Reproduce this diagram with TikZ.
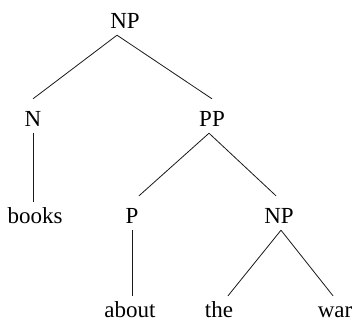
\documentclass[tikz,border=0pt]{standalone}
\usepackage{fontspec}
\setmainfont{Liberation Serif}
\begin{document}
\begin{tikzpicture}[x=1pt,y=-1pt,
  lab/.style={font=\fontsize{23}{26}\selectfont, inner sep=0pt, anchor=base},
  cat/.style={lab, text height=27pt, text depth=7pt},
  word/.style={lab, text height=21pt, text depth=4pt},
  edge/.style={line width=0.8pt, draw=black!90}]
\useasboundingbox (0,0) rectangle (355,322);
\node[cat] (np1) at (125,28) {NP};
\node[cat] (n) at (33,126) {N};
\node[cat] (pp) at (212,126) {PP};
\node[word] (books) at (35,223) {books};
\node[cat] (p) at (132,223) {P};
\node[cat] (np2) at (279,223) {NP};
\node[word] (about) at (130,317) {about};
\node[word] (the) at (219,317) {the};
\node[word] (war) at (335,317) {war};
\draw[edge] ([xshift=-8pt]np1.south) -- (n.north);
\draw[edge] ([xshift=-8pt]np1.south) -- (pp.north);
\draw[edge] (n.south) -- (n.south |- books.north);
\draw[edge] ([xshift=-3pt]pp.south) -- ([xshift=7pt]p.north);
\draw[edge] ([xshift=-3pt]pp.south) -- ([xshift=-3pt]np2.north);
\draw[edge] (p.south) -- (p.south |- about.north);
\draw[edge] ([xshift=2pt]np2.south) -- ([xshift=9pt]the.north);
\draw[edge] ([xshift=2pt]np2.south) -- ([xshift=-2pt]war.north);
\end{tikzpicture}
\end{document}
